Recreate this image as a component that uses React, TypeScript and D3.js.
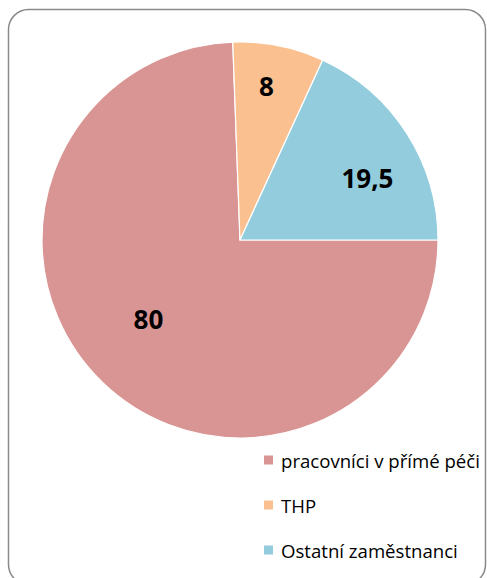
import React from "react";
import * as d3 from "d3";

const categories = ["pracovníci v přímé péči", "THP", "Ostatní zaměstnanci"];
const values = [80, 8, 19.5];
const valueLabels = ["80", "8", "19,5"];
const colors = ["#D99594", "#FAC090", "#93CDDD"];
const labelRadiusFactor = [0.61, 0.79, 0.717];
const labelAngleFraction = [0.52, 0.44, 0.6];

export default function App() {
  const W = 487, H = 578;
  const cx = 240, cy = 240, r = 198;
  const pie = d3.pie<number>().sort(null).startAngle(Math.PI / 2).endAngle(Math.PI / 2 + 2 * Math.PI);
  const arcs = pie(values);
  const arc = d3.arc<d3.PieArcDatum<number>>().innerRadius(0).outerRadius(r);
  const legendY = d3.scalePoint<string>().domain(categories).range([460, 550]);
  return (
    <svg width={W} height={H} style={{ position: "absolute", left: 0, top: 0 }}>
      <rect x={0} y={0} width={W} height={H} fill="#fff" />
      <rect x={8.5} y={9.5} width={477} height={575} rx={20} ry={20} fill="#fff" stroke="#8a8a8a" strokeWidth={1.5} />
      <g transform={`translate(${cx},${cy})`}>
        {arcs.map((a, i) => (
          <path key={i} d={arc(a) || ""} fill={colors[i]} stroke="#fff" strokeWidth={1.2} />
        ))}
        {arcs.map((a, i) => {
          const ang = a.startAngle + (a.endAngle - a.startAngle) * labelAngleFraction[i];
          const rr = r * labelRadiusFactor[i];
          const x = Math.sin(ang) * rr;
          const y = -Math.cos(ang) * rr;
          return (
            <text key={i} x={x} y={y} textAnchor="middle" dominantBaseline="central"
              fontFamily="'Open Sans', sans-serif" fontWeight="bold" fontSize={26} fill="#000">
              {valueLabels[i]}
            </text>
          );
        })}
      </g>
      {categories.map((c, i) => {
        const y = legendY(c)!;
        return (
          <g key={c}>
            <rect x={264} y={y - 4.5} width={9} height={9} fill={colors[i]} />
            <text x={281} y={y} dominantBaseline="central" fontFamily="'Open Sans', sans-serif" fontSize={18.6} fill="#000">
              {c}
            </text>
          </g>
        );
      })}
    </svg>
  );
}
